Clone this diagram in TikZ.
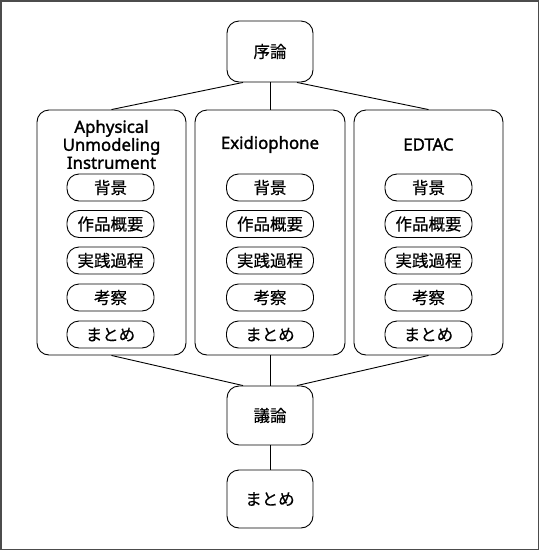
\documentclass[tikz,border=0pt]{standalone}
\usepackage{fontspec}
\setmainfont{Noto Sans}
\newfontfamily\ttlfont[FakeBold=1.6]{Noto Sans}
\newfontfamily\cjk[FakeBold=0.4]{Noto Sans CJK JP}
\begin{document}
\begin{tikzpicture}[x=1pt,y=-1pt,
  box/.style={draw=black,line width=0.9pt,rounded corners=12pt,minimum width=86pt,inner sep=0pt,font=\cjk\fontsize{16.5}{18}\selectfont},
  col/.style={draw=black,line width=0.9pt,rounded corners=12pt,minimum width=149pt,minimum height=245pt,inner sep=0pt},
  pill/.style={draw=black,line width=0.9pt,rounded corners=12pt,minimum width=87pt,minimum height=27pt,inner sep=0pt,font=\cjk\fontsize{16.5}{18}\selectfont},
  ttl/.style={align=center,inner sep=0pt,font=\ttlfont\fontsize{16.8}{18}\selectfont},
  link/.style={draw=black,line width=0.9pt}]
\useasboundingbox (0,0) rectangle (539,550);
\draw[draw=black!70,line width=1.5pt] (0.75,0.75) rectangle (538.25,549.25);
\node[box,minimum height=61pt] (jo) at (270,51.5) {序論};
\node[col] (colA) at (111.5,232.5) {};
\node[col,minimum width=150pt] (colB) at (270,232.5) {};
\node[col] (colC) at (428.5,232.5) {};
\node[ttl] (tA) at (111.5,144.5) {Aphysical\\Unmodeling\\Instrument};
\node[ttl] (tB) at (270,144.5) {Exidiophone};
\node[ttl] (tC) at (428.5,144.5) {EDTAC};
\foreach \c/\x in {A/110.5,B/270,C/428.5}{
  \node[pill] (p\c1) at (\x,187.5) {背景};
  \node[pill] (p\c2) at (\x,224) {作品概要};
  \node[pill] (p\c3) at (\x,260.5) {実践過程};
  \node[pill] (p\c4) at (\x,297.5) {考察};
  \node[pill] (p\c5) at (\x,334.5) {まとめ};
}
\node[box,minimum height=59pt] (gi) at (270,415.5) {議論};
\node[box,minimum height=58pt] (ma) at (270,499) {まとめ};
\coordinate (joL) at ([xshift=-27pt]jo.south);
\coordinate (joR) at ([xshift=27pt]jo.south);
\coordinate (giL) at ([xshift=-27pt]gi.north);
\coordinate (giR) at ([xshift=27pt]gi.north);
\draw[link] (joL) -- (colA.north);
\draw[link] (jo.south) -- (colB.north);
\draw[link] (joR) -- (colC.north);
\draw[link] (colA.south) -- (giL);
\draw[link] (colB.south) -- (gi.north);
\draw[link] (colC.south) -- (giR);
\draw[link] (gi.south) -- (ma.north);
\end{tikzpicture}
\end{document}
